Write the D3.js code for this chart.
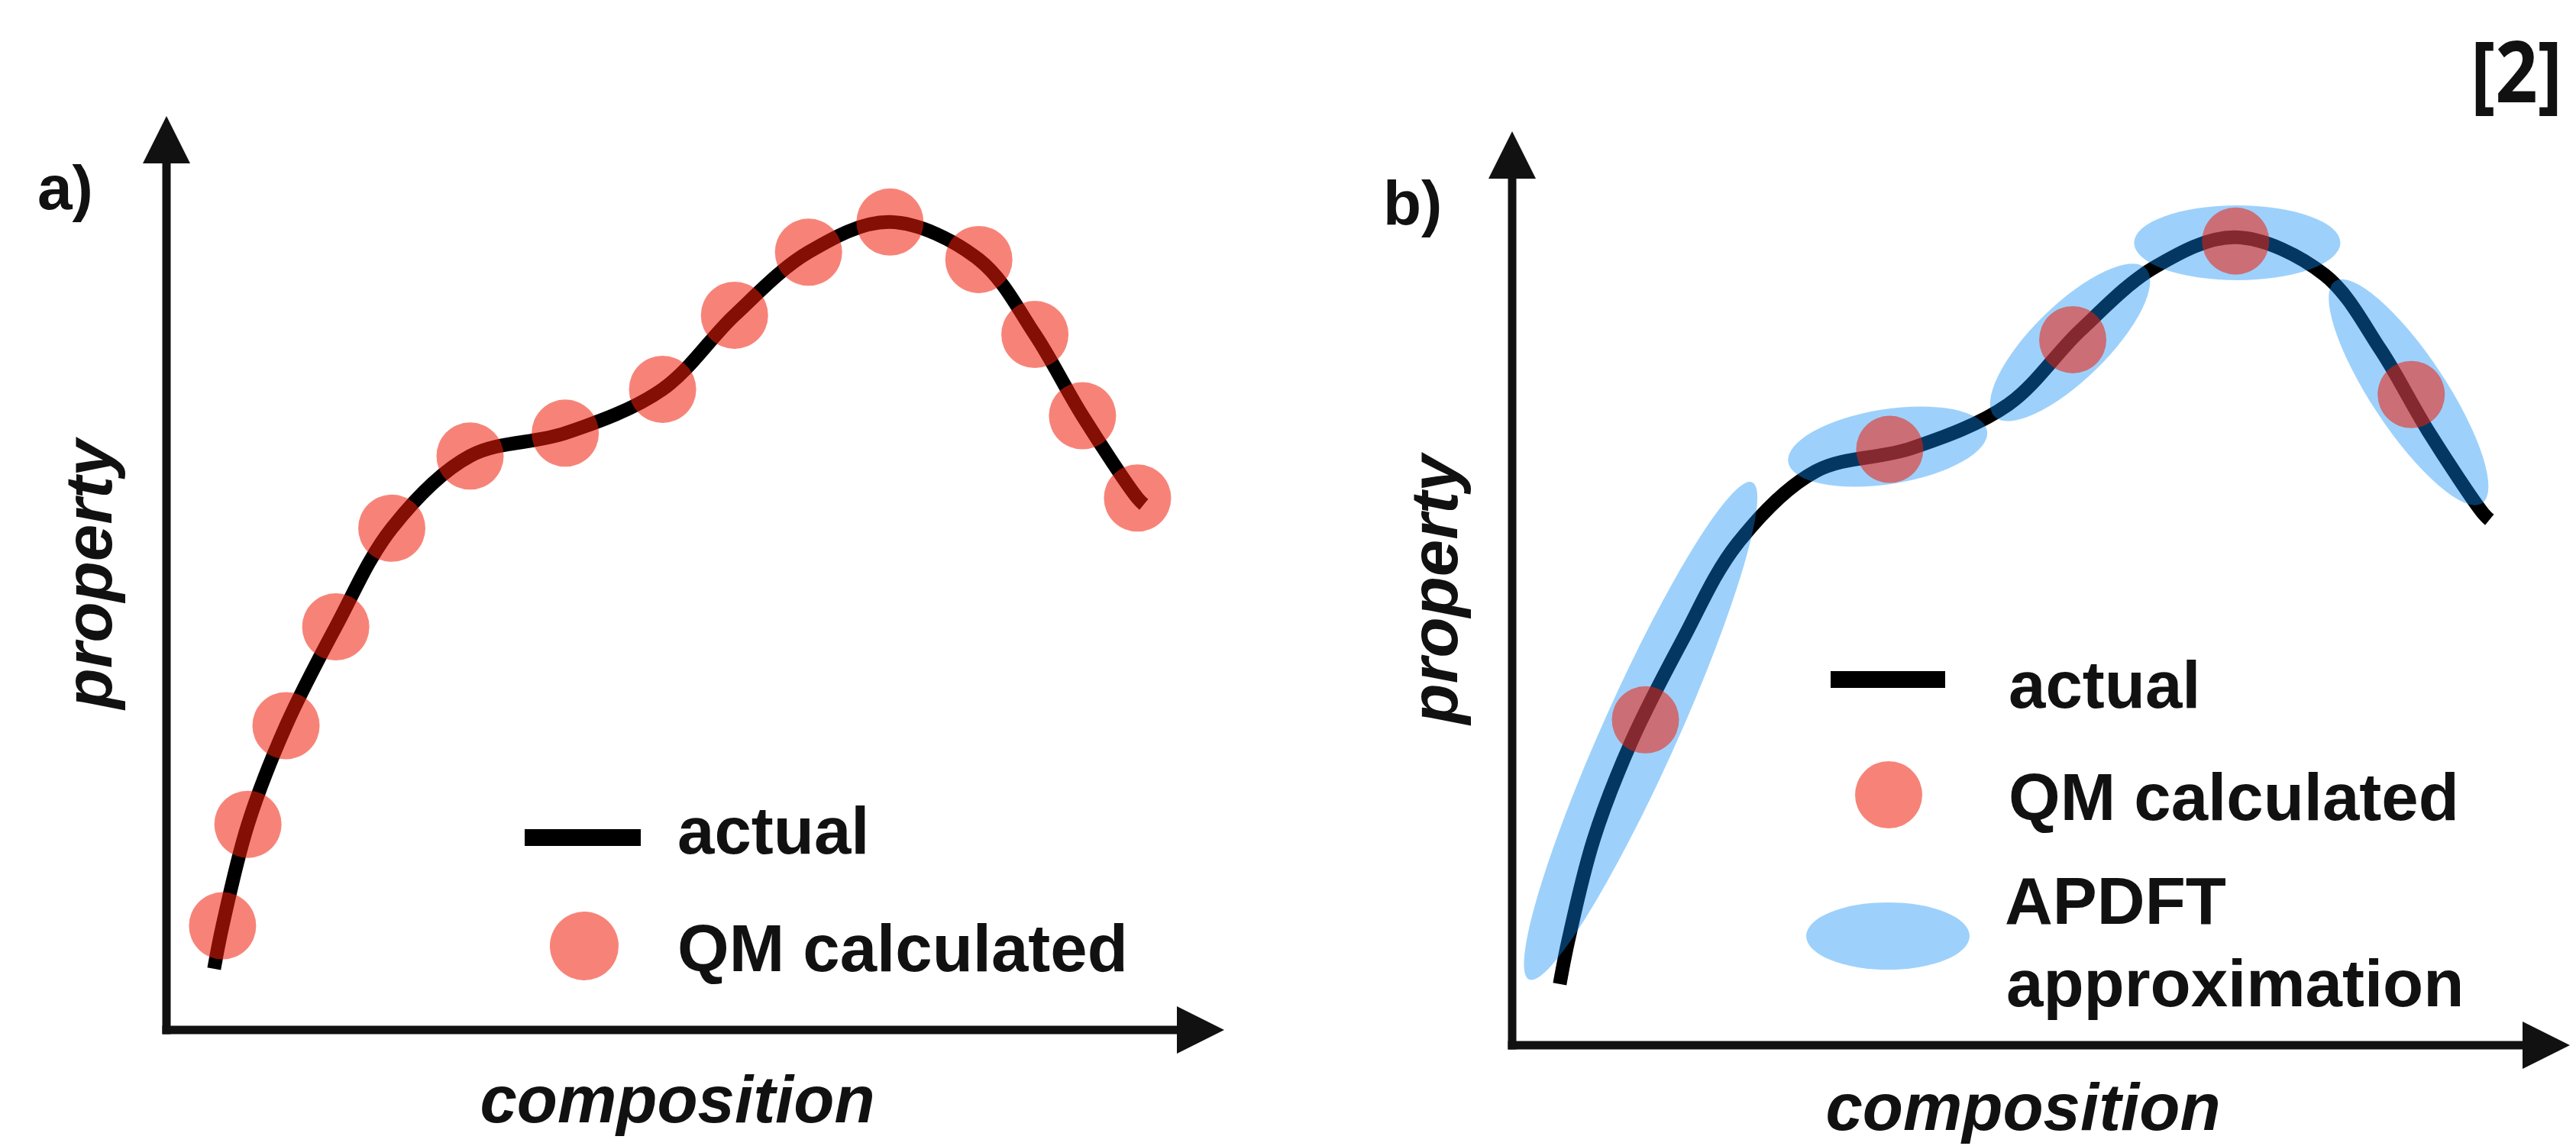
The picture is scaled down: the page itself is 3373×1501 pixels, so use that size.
<!DOCTYPE html>
<html>
<head>
<meta charset="utf-8">
<script src="https://cdn.jsdelivr.net/npm/d3@7"></script>
<style>
body { margin: 0; background: #fff; }
svg text { font-family: "Liberation Sans", Arial, Helvetica, sans-serif; font-weight: bold; fill: #111; }
</style>
</head>
<body>
<svg id="chart" width="3373" height="1501"></svg>
<script>
// "actual" curve, composition vs property (arbitrary units 0-100)
const actualX = [4.5, 5.3, 7.7, 11.3, 16.0, 21.3, 28.7, 37.7, 46.9, 53.7, 60.7, 68.4, 76.8, 82.1, 86.6, 91.8, 92.4];
const actualY = [6.7, 11.4, 22.5, 33.3, 44.1, 54.9, 62.8, 65.3, 70.1, 78.2, 85.1, 88.4, 84.3, 76.1, 67.2, 58.2, 57.5];

// QM calculated points, panel a
const qmAX = [5.3, 7.7, 11.3, 16.0, 21.3, 28.7, 37.7, 46.9, 53.7, 60.7, 68.4, 76.8, 82.1, 86.6, 91.8];
const qmAY = [11.4, 22.5, 33.3, 44.1, 54.9, 62.8, 65.3, 70.1, 78.2, 85.1, 88.4, 84.3, 76.1, 67.2, 58.2];

// QM calculated points, panel b
const qmBX = [12.6, 35.7, 53.0, 68.4, 85.0];
const qmBY = [35.6, 65.2, 77.2, 88.0, 71.2];

// APDFT approximation ranges, panel b (start and end of each ellipse)
const apdftX0 = [1.6, 26.1, 45.6, 58.8, 77.8];
const apdftY0 = [7.2, 63.8, 68.8, 87.8, 83.6];
const apdftX1 = [22.7, 44.9, 59.9, 78.3, 91.7];
const apdftY1 = [61.6, 67.2, 85.0, 87.8, 59.3];

const panelLabels = ["a)", "b)"];
const axisLabels = ["composition", "property"];
const legendA = ["actual", "QM calculated"];
const legendB = ["actual", "QM calculated", "APDFT", "approximation"];

const qmFill = "rgb(240,30,10)", qmOpacity = 0.55;
const apdftFill = "rgb(10,140,245)", apdftOpacity = 0.4;

const svg = d3.select("#chart");

const x = d3.scaleLinear().domain([0, 100]).range([218, 1603]);
const y = d3.scaleLinear().domain([0, 100]).range([1349, 152]);

const line = d3.line()
    .x(d => x(d[0]))
    .y(d => y(d[1]))
    .curve(d3.curveCatmullRom.alpha(0.5));

const actual = actualX.map((v, i) => [v, actualY[i]]);

function drawAxes(g, label, compY) {
    const head = 62, half = 31;
    g.append("line")
        .attr("x1", x(0)).attr("y1", y(0))
        .attr("x2", x(0)).attr("y2", y(100) + head - 4)
        .attr("stroke", "#111").attr("stroke-width", 11).attr("stroke-linecap", "square");
    g.append("path")
        .attr("d", `M${x(0)},${y(100)} L${x(0) - half},${y(100) + head} L${x(0) + half},${y(100) + head} Z`)
        .attr("fill", "#111");
    g.append("line")
        .attr("x1", x(0)).attr("y1", y(0))
        .attr("x2", x(100) - head + 4).attr("y2", y(0))
        .attr("stroke", "#111").attr("stroke-width", 11).attr("stroke-linecap", "square");
    g.append("path")
        .attr("d", `M${x(100)},${y(0)} L${x(100) - head},${y(0) - half} L${x(100) - head},${y(0) + half} Z`)
        .attr("fill", "#111");

    g.append("text").attr("x", 49).attr("y", 274)
        .style("font-size", "82px").text(label);
    g.append("text")
        .attr("transform", "translate(146,752) rotate(-90)")
        .attr("text-anchor", "middle")
        .style("font-size", "87px").style("font-style", "italic")
        .text(axisLabels[1]);
    g.append("text")
        .attr("x", 887).attr("y", compY)
        .attr("text-anchor", "middle")
        .style("font-size", "87px").style("font-style", "italic")
        .text(axisLabels[0]);
}

function drawCurve(g) {
    g.append("path")
        .datum(actual)
        .attr("d", line)
        .attr("fill", "none")
        .attr("stroke", "#000")
        .attr("stroke-width", 18);
}

function drawQM(g, xs, ys) {
    g.selectAll("circle.qm")
        .data(xs.map((v, i) => [v, ys[i]]))
        .enter()
        .append("circle")
        .attr("class", "qm")
        .attr("cx", d => x(d[0]))
        .attr("cy", d => y(d[1]))
        .attr("r", 44)
        .attr("fill", qmFill)
        .attr("fill-opacity", qmOpacity);
}

// panel a
const ga = svg.append("g");
drawAxes(ga, panelLabels[0], 1470);
drawCurve(ga);
drawQM(ga, qmAX, qmAY);

ga.append("line").attr("x1", 687).attr("x2", 839).attr("y1", 1097).attr("y2", 1097)
    .attr("stroke", "#000").attr("stroke-width", 22);
ga.append("text").attr("x", 887).attr("y", 1118).style("font-size", "87px").text(legendA[0]);
ga.append("circle").attr("cx", 765).attr("cy", 1239).attr("r", 45)
    .attr("fill", qmFill).attr("fill-opacity", qmOpacity);
ga.append("text").attr("x", 887).attr("y", 1272).style("font-size", "87px").text(legendA[1]);

// panel b
const gb = svg.append("g").attr("transform", "translate(1762,20)");
drawAxes(gb, panelLabels[1], 1460);
drawCurve(gb);

const ell = apdftX0.map((v, i) => {
    const ax = x(v), ay = y(apdftY0[i]), bx = x(apdftX1[i]), by = y(apdftY1[i]);
    return {
        cx: (ax + bx) / 2, cy: (ay + by) / 2,
        rx: Math.hypot(bx - ax, by - ay) / 2,
        angle: Math.atan2(by - ay, bx - ax) * 180 / Math.PI
    };
});
gb.selectAll("ellipse.apdft")
    .data(ell)
    .enter()
    .append("ellipse")
    .attr("class", "apdft")
    .attr("transform", d => `translate(${d.cx},${d.cy}) rotate(${d.angle})`)
    .attr("rx", d => d.rx)
    .attr("ry", 49)
    .attr("fill", apdftFill)
    .attr("fill-opacity", apdftOpacity);

drawQM(gb, qmBX, qmBY);

gb.append("line").attr("x1", 635).attr("x2", 785).attr("y1", 870).attr("y2", 870)
    .attr("stroke", "#000").attr("stroke-width", 22);
gb.append("text").attr("x", 868).attr("y", 907).style("font-size", "87px").text(legendB[0]);
gb.append("circle").attr("cx", 711).attr("cy", 1021).attr("r", 44)
    .attr("fill", qmFill).attr("fill-opacity", qmOpacity);
gb.append("text").attr("x", 868).attr("y", 1054).style("font-size", "87px").text(legendB[1]);
gb.append("ellipse").attr("cx", 710).attr("cy", 1206).attr("rx", 107).attr("ry", 44)
    .attr("fill", apdftFill).attr("fill-opacity", apdftOpacity);
gb.append("text").attr("x", 863).attr("y", 1190).style("font-size", "87px").text(legendB[2]);
gb.append("text").attr("x", 865).attr("y", 1298).style("font-size", "87px").text(legendB[3]);

// reference tag
svg.append("text")
    .attr("x", 3355).attr("y", 134)
    .attr("text-anchor", "end")
    .attr("textLength", 120)
    .attr("lengthAdjust", "spacingAndGlyphs")
    .style("font-family", "'Open Sans', sans-serif")
    .style("font-weight", "700")
    .style("font-size", "112px")
    .text("[2]");
</script>
</body>
</html>
